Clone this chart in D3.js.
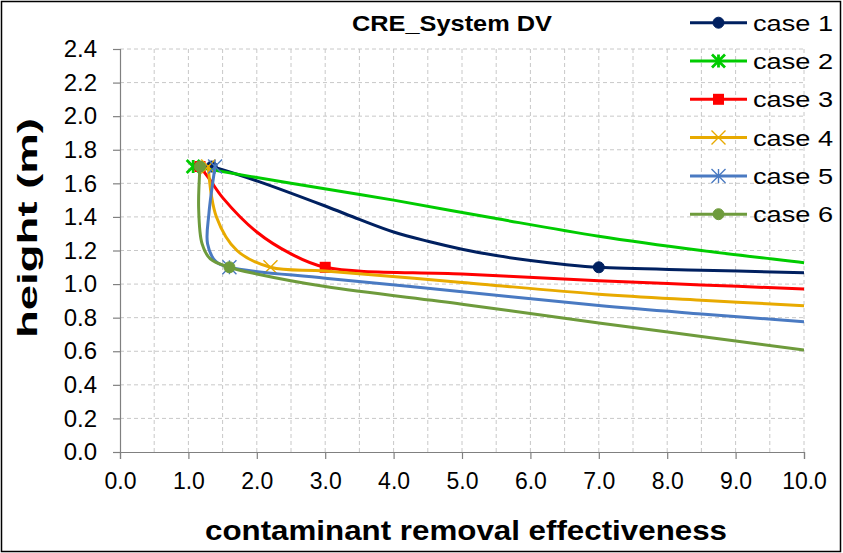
<!DOCTYPE html>
<html><head><meta charset="utf-8">
<script src="https://cdn.jsdelivr.net/npm/d3@7"></script>
<style>
body{margin:0;background:#fff}
text{font-family:Arial,"Liberation Sans",sans-serif;fill:#000}
</style>
</head><body>
<svg id="c" width="843" height="553"></svg>
<script>
// ---------- data ----------
const seriesNames = ["case 1","case 2","case 3","case 4","case 5","case 6"];
const xTicks = [0,1,2,3,4,5,6,7,8,9,10];
const yTicks = [0,0.2,0.4,0.6,0.8,1.0,1.2,1.4,1.6,1.8,2.0,2.2,2.4];

// marked data points (height 1.7 m and 1.1 m)
const case1Points = [[1.34,1.70],[7.0,1.10]];
const case2Points = [[1.07,1.70]];
const case3Points = [[1.17,1.70],[3.0,1.10]];
const case4Points = [[1.29,1.70],[2.2,1.10]];
const case5Points = [[1.39,1.70],[1.6,1.10]];
const case6Points = [[1.17,1.70],[1.6,1.10]];

// smoothed curve traces
const case1Curve = [[1.34,1.70],[2.0,1.615],[3.0,1.465],[3.5,1.385],[4.0,1.31],[4.5,1.255],[5.0,1.208],[5.5,1.17],[6.0,1.14],[6.5,1.117],[7.0,1.10],[8.5,1.083],[10.0,1.068],[10.5,1.063]];
const case2Curve = [[1.07,1.70],[2.5,1.60],[4.0,1.50],[5.5,1.39],[7.0,1.285],[8.5,1.20],[10.0,1.127],[10.5,1.102]];
const case3Curve = [[1.17,1.70],[1.3,1.63],[1.5,1.515],[2.0,1.31],[2.5,1.18],[3.0,1.10],[5.0,1.06],[7.0,1.02],[8.5,0.995],[10.0,0.971],[10.5,0.963]];
const case4Curve = [[1.29,1.70],[1.41,1.40],[1.71,1.20],[2.2,1.10],[3.0,1.078],[5.0,1.01],[7.0,0.94],[8.5,0.904],[10.0,0.871],[10.5,0.86]];
const case5Curve = [[1.39,1.70],[1.30,1.42],[1.28,1.24],[1.40,1.135],[1.6,1.10],[3.0,1.035],[5.0,0.955],[7.0,0.872],[8.5,0.822],[10.0,0.776],[10.5,0.76]];
const case6Curve = [[1.17,1.70],[1.15,1.45],[1.20,1.24],[1.32,1.15],[1.6,1.10],[2.0,1.06],[3.0,0.985],[5.0,0.88],[7.0,0.768],[8.5,0.688],[10.0,0.607],[10.5,0.58]];

const colors = ["#002060","#00CC00","#FF0000","#E8AA00","#4A7AC2","#6E9B3C"];
const markers = ["circle","star","square","x","asterisk","circle"];

const series = seriesNames.map((n,i)=>({
  name:n, color:colors[i], marker:markers[i],
  curve:[case1Curve,case2Curve,case3Curve,case4Curve,case5Curve,case6Curve][i],
  points:[case1Points,case2Points,case3Points,case4Points,case5Points,case6Points][i]
}));

// ---------- layout ----------
const W=843,H=553;
const L=120,R=804,T=49,B=452;
const x = d3.scaleLinear().domain([0,10]).range([L,R]);
const y = d3.scaleLinear().domain([0,2.4]).range([B,T]);
const svg = d3.select("#c");
const FONT = "Arial, 'Liberation Sans', sans-serif";

svg.append("rect").attr("x",1.5).attr("y",1.5).attr("width",W-4).attr("height",H-3)
  .attr("fill","#fff").attr("stroke","#000").attr("stroke-width",1.5);

// grid
const grid = svg.append("g");
grid.selectAll("line.h").data(yTicks.filter(v=>v>0)).join("line")
  .attr("x1",L).attr("x2",R).attr("y1",d=>y(d)).attr("y2",d=>y(d))
  .attr("stroke","#c8c8c8").attr("stroke-width",1).attr("stroke-dasharray","4,3");
grid.selectAll("line.v").data(d3.range(1,21).map(i=>i*0.5)).join("line")
  .attr("y1",T).attr("y2",B).attr("x1",d=>x(d)).attr("x2",d=>x(d))
  .attr("stroke","#c8c8c8").attr("stroke-width",1).attr("stroke-dasharray","4,3");

// axes
const xAxis = d3.axisBottom(x).tickValues(xTicks).tickFormat(d3.format(".1f")).tickSize(7).tickPadding(14);
const gx = svg.append("g").attr("transform",`translate(0,${B})`).call(xAxis);
gx.attr("font-family",null).attr("font-size",null);
gx.select(".domain").attr("stroke","#808080").attr("stroke-width",1.2);
gx.selectAll(".tick line").attr("stroke","#808080").attr("stroke-width",1.2);
gx.selectAll(".tick text").attr("font-size",23).attr("font-family",FONT).attr("fill","#000");

const yAxis = d3.axisLeft(y).tickValues(yTicks).tickFormat(d3.format(".1f")).tickSize(7).tickPadding(16);
const gy = svg.append("g").attr("transform",`translate(${L},0)`).call(yAxis);
gy.attr("font-family",null).attr("font-size",null);
gy.select(".domain").attr("stroke","#808080").attr("stroke-width",1.2);
gy.selectAll(".tick line").attr("stroke","#808080").attr("stroke-width",1.2);
gy.selectAll(".tick text").attr("font-size",24).attr("font-family",FONT).attr("fill","#000");

// titles
svg.append("text").attr("x",452).attr("y",31).attr("text-anchor","middle")
  .attr("font-size",22).attr("font-weight","bold")
  .attr("textLength",200).attr("lengthAdjust","spacingAndGlyphs").text("CRE_System DV");
svg.append("text").attr("x",466).attr("y",540).attr("text-anchor","middle")
  .attr("font-size",27).attr("font-weight","bold")
  .attr("textLength",522).attr("lengthAdjust","spacingAndGlyphs").text("contaminant removal effectiveness");
svg.append("text").attr("transform","translate(37,228) rotate(-90)").attr("text-anchor","middle")
  .attr("font-size",27).attr("font-weight","bold")
  .attr("textLength",220).attr("lengthAdjust","spacingAndGlyphs").text("height (m)");

// clip
svg.append("clipPath").attr("id","clip").append("rect").attr("x",L).attr("y",T-10).attr("width",R-L).attr("height",B-T+10);

const line = d3.line().x(d=>x(d[0])).y(d=>y(d[1])).curve(d3.curveCatmullRom.alpha(0.5));

function drawMarker(g, type, color, cx, cy){
  if(type==="circle"){
    g.append("circle").attr("cx",cx).attr("cy",cy).attr("r",5.5).attr("fill",color).attr("stroke",color);
  } else if(type==="square"){
    g.append("rect").attr("x",cx-5.5).attr("y",cy-5.5).attr("width",11).attr("height",11).attr("fill",color);
  } else if(type==="star"){
    const s=6.5;
    g.append("path").attr("d",`M${cx},${cy-s}L${cx},${cy+s}M${cx-s},${cy-s}L${cx+s},${cy+s}M${cx-s},${cy+s}L${cx+s},${cy-s}`)
      .attr("stroke",color).attr("stroke-width",2.8).attr("fill","none");
  } else if(type==="asterisk"){
    const s=7;
    g.append("path").attr("d",`M${cx},${cy-s}L${cx},${cy+s}M${cx-s},${cy-s}L${cx+s},${cy+s}M${cx-s},${cy+s}L${cx+s},${cy-s}`)
      .attr("stroke",color).attr("stroke-width",1.4).attr("fill","none");
  } else if(type==="x"){
    const s=7;
    g.append("path").attr("d",`M${cx-s},${cy-s}L${cx+s},${cy+s}M${cx-s},${cy+s}L${cx+s},${cy-s}`)
      .attr("stroke",color).attr("stroke-width",1.4).attr("fill","none");
  }
}

const plot = svg.append("g").attr("clip-path","url(#clip)");
series.forEach(s=>{
  const g = plot.append("g");
  g.append("path").attr("d",line(s.curve)).attr("fill","none").attr("stroke",s.color)
    .attr("stroke-width",3).attr("stroke-linejoin","round").attr("stroke-linecap","round");
  s.points.forEach(p=>drawMarker(g,s.marker,s.color,x(p[0]),y(p[1])));
});

// legend
const lg = svg.append("g");
series.forEach((s,i)=>{
  const ly = 22.7 + i*38.3;
  lg.append("line").attr("x1",690).attr("x2",747).attr("y1",ly).attr("y2",ly).attr("stroke",s.color).attr("stroke-width",3);
  drawMarker(lg,s.marker,s.color,718.5,ly);
  lg.append("text").attr("x",753).attr("y",ly+8).attr("font-size",22)
    .attr("textLength",80).attr("lengthAdjust","spacingAndGlyphs").text(s.name);
});
</script>
</body></html>
